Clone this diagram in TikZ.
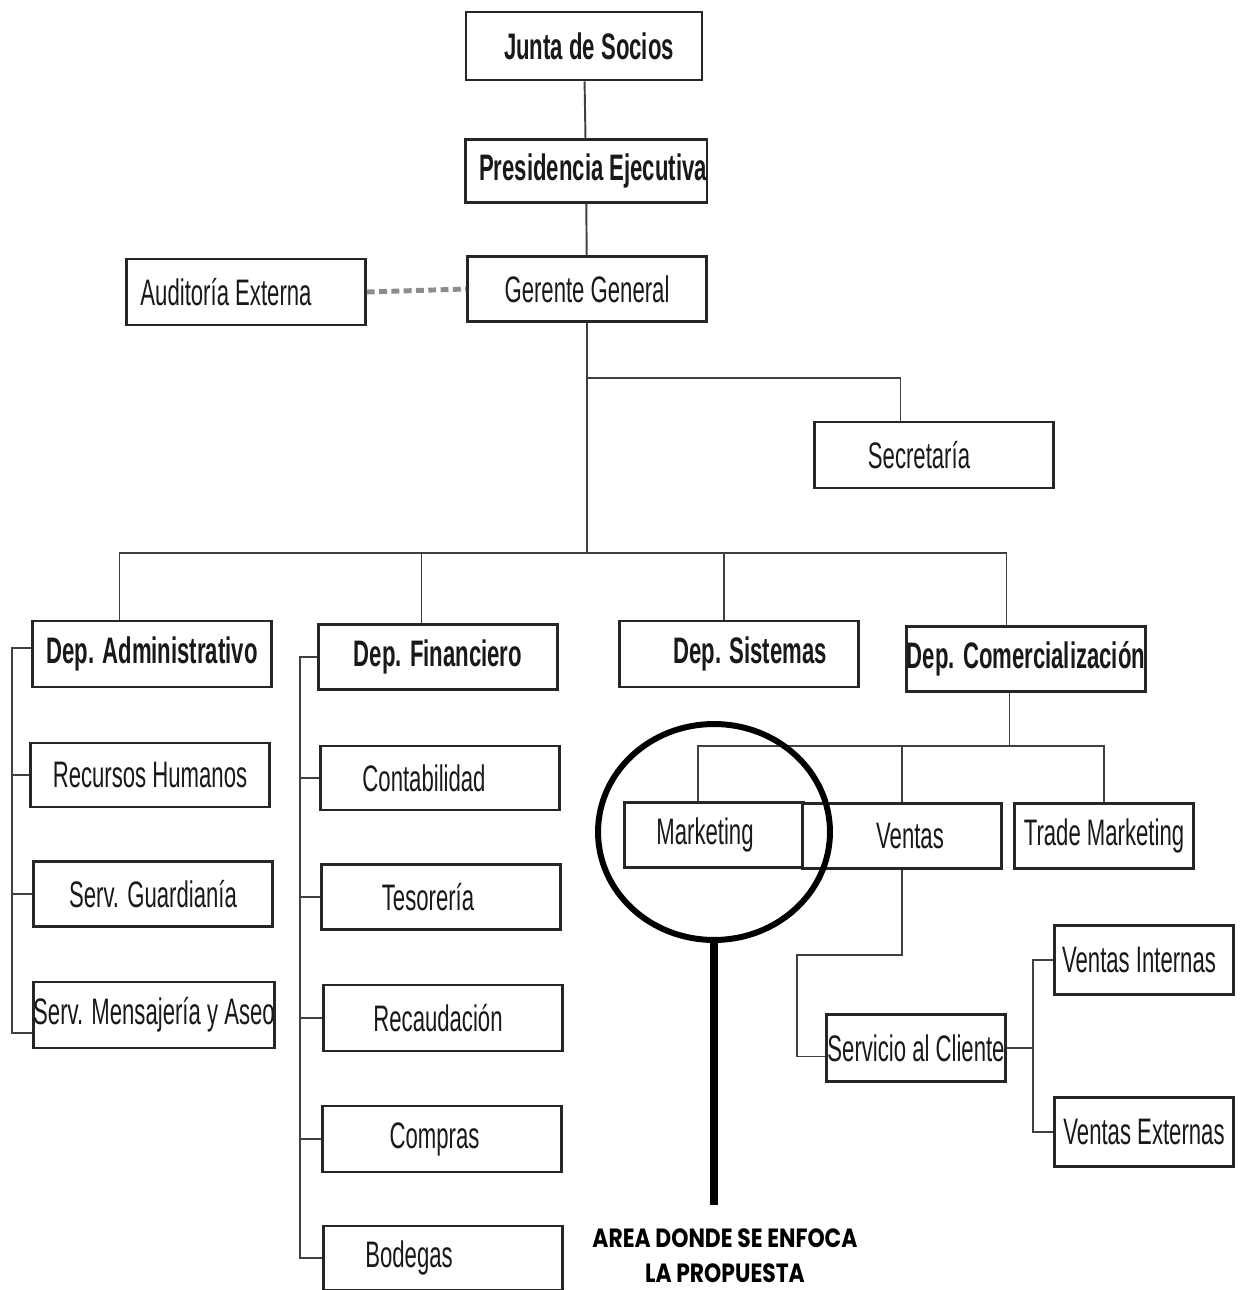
\documentclass[tikz,border=0pt]{standalone}
\usepackage{fontspec}
\setmainfont{Liberation Sans}[FakeStretch=0.6]
\newfontfamily\notafont{Poppins}[FakeStretch=0.83]
\usetikzlibrary{shapes.geometric}

\tikzset{
	caja/.style={draw=black!85, line width=1.5pt, fill=white, inner sep=0pt, minimum width=4.78cm, minimum height=1.3cm, text=black!90, font=\fontsize{21}{24}\selectfont},
	cajita/.style={caja, minimum width=3.58cm},
	jefe/.style={font=\fontsize{21}{24}\selectfont\bfseries},
	linea/.style={draw=black!75, line width=1.1pt},
}

\begin{document}
\begin{tikzpicture}[x=0.02cm, y=-0.02cm]
	\useasboundingbox (0,0) rectangle (1242,1290);
	% Boxes:
	\node[caja, jefe, minimum width=4.72cm, minimum height=1.36cm] (junta) at (584,46) {\hspace*{0.2cm}Junta de Socios};
	\node[caja, jefe, minimum width=4.8cm, minimum height=1.26cm] (pres) at (586,171) {\hspace*{0.28cm}Presidencia Ejecutiva};
	\node[caja] (gerente) at (587,289) {Gerente General};
	\node[caja, minimum height=1.32cm] (audit) at (246,292) {Auditoría Externa\hspace*{0.8cm}};
	\node[caja, minimum height=1.32cm] (secre) at (934,455) {Secretaría\hspace*{0.6cm}};

	\node[caja, jefe, minimum height=1.32cm] (admin) at (152,654) {Dep. Administrativo};
	\node[caja, jefe] (finan) at (438,657) {Dep. Financiero};
	\node[caja, jefe, minimum height=1.32cm] (sist) at (739,654) {\hspace*{0.44cm}Dep. Sistemas};
	\node[caja, jefe] (comer) at (1026,659) {Dep. Comercialización};

	\node[caja, minimum height=1.28cm] (rrhh) at (150,775) {Recursos Humanos};
	\node[caja] (guard) at (153,894) {Serv. Guardianía};
	\node[caja, minimum height=1.32cm] (mensa) at (154,1015) {Serv. Mensajería y Aseo};

	\node[caja, minimum height=1.28cm] (conta) at (440,778) {Contabilidad\hspace*{0.64cm}};
	\node[caja] (teso) at (441,897) {Tesorería\hspace*{0.52cm}};
	\node[caja, minimum height=1.32cm] (recau) at (443,1018) {Recaudación\hspace*{0.2cm}};
	\node[caja, minimum height=1.32cm] (compras) at (442,1139) {Compras\hspace*{0.3cm}};
	\node[caja, minimum height=1.28cm] (bodegas) at (443,1258) {Bodegas\hspace*{1.36cm}};

	\node[cajita] (mark) at (714,835) {Marketing\hspace*{0.36cm}};
	\node[cajita, minimum width=3.98cm] (ventas) at (902,836) {\hspace*{0.32cm}Ventas};
	\node[cajita] (trade) at (1104,836) {Trade Marketing};
	\node[cajita, minimum height=1.34cm] (servicio) at (916,1048) {Servicio al Cliente};
	\node[cajita, minimum height=1.38cm] (vint) at (1144,960) {Ventas Internas\hspace*{0.2cm}};
	\node[cajita, minimum height=1.38cm] (vext) at (1144,1132) {Ventas Externas};

	% Connectors:
	\coordinate (bus) at (587,553);
	\coordinate (ramaS) at (587,378);
	\coordinate (ejeA) at (12,0);
	\coordinate (ejeF) at (300,0);
	\coordinate (busC) at (1010,746);
	\coordinate (codo) at (797,955);
	\coordinate (ejeV) at (1033,0);

	\draw[linea] (junta) -- (pres);
	\draw[linea] (pres) -- (gerente);
	\draw[draw=black!45, line width=2.8pt, dash pattern=on 4.5pt off 2.5pt] (audit.east) -- (gerente.west);
	\draw[linea] (gerente.south) -- (bus);
	\draw[linea] (ramaS) -| ([xshift=-0.67cm]secre.north);
	\draw[linea] ([xshift=-0.65cm]admin.north) |- (bus) -| ([xshift=-0.39cm]comer.north);
	\draw[linea] ([xshift=-0.33cm]finan.north) -- ([xshift=-0.33cm]finan.north |- bus);
	\draw[linea] ([xshift=-0.3cm]sist.north) -- ([xshift=-0.3cm]sist.north |- bus);

	\draw[linea] ([yshift=0.12cm]admin.west) -- ([yshift=0.12cm]admin.west -| ejeA) |- ([yshift=-0.36cm]mensa.west);
	\foreach \n in {rrhh,guard}
		\draw[linea] (\n.west) -- (\n.west -| ejeA);

	\draw[linea] (finan.west) -- (finan.west -| ejeF) |- (bodegas.west);
	\foreach \n in {conta,teso,recau,compras}
		\draw[linea] (\n.west) -- (\n.west -| ejeF);

	\draw[linea] ([xshift=-0.33cm]comer.south) -- ([xshift=-0.33cm]comer.south |- busC);
	\draw[linea] ([xshift=-0.32cm]mark.north) |- (busC) -| (trade.north);
	\draw[linea] (ventas.north) -- (ventas.north |- busC);
	\draw[linea] (ventas.south) |- (codo) |- ([yshift=-0.17cm]servicio.west);
	\draw[linea] (servicio.east) -- (servicio.east -| ejeV);
	\draw[linea] (vint.west) -- (vint.west -| ejeV) |- (vext.west);

	% Highlight:
	\node[draw, ellipse, line width=3.4pt, minimum width=4.64cm, minimum height=4.32cm] (foco) at (714,832) {};
	\node[font=\notafont\fontsize{15}{20}\selectfont\bfseries, align=center] (nota) at (725,1256) {AREA DONDE SE ENFOCA\\LA PROPUESTA};
	\draw[line width=4.5pt, shorten >=0.35cm] (foco.south) -- (foco.south |- nota.north);
\end{tikzpicture}
\end{document}
